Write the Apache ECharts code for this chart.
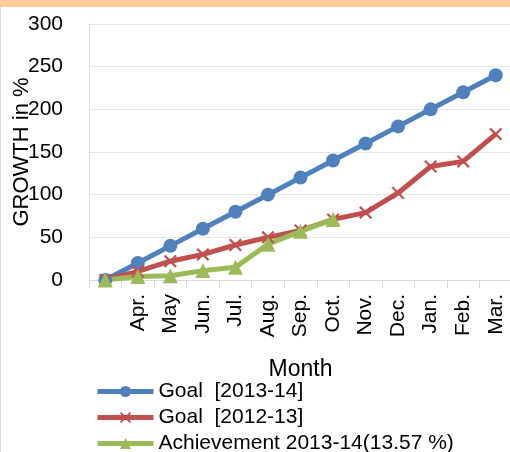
<!DOCTYPE html>
<html>
<head>
<meta charset="utf-8">
<style>
  html, body { margin: 0; padding: 0; background: #fff; }
  #main { width: 510px; height: 452px; }
</style>
<script src="https://cdn.jsdelivr.net/npm/echarts@6/dist/echarts.min.js"></script>
</head>
<body>
<div id="main"></div>
<script>
// months, the first slot is the starting point (no label)
var months = ['', 'Apr.', 'May', 'Jun.', 'Jul.', 'Aug.', 'Sep.', 'Oct.', 'Nov.', 'Dec.', 'Jan.', 'Feb.', 'Mar.'];
var goal1314 = [0, 20, 40, 60, 80, 100, 120, 140, 160, 180, 200, 220, 240];
var goal1213 = [0, 10, 22, 30, 41, 50, 58, 71, 79, 102, 133, 139, 171];
var achieve1314 = [0, 4, 5, 11, 15, 42, 57, 71, '-', '-', '-', '-', '-'];
var yTicks = [0, 50, 100, 150, 200, 250, 300];

var FONT = 'Liberation Sans';
var crossPath = 'path://M0,1.2L1.2,0L10,8.8L8.8,10Z M8.8,0L10,1.2L1.2,10L0,8.8Z';

var chart = echarts.init(document.getElementById('main'));
chart.setOption({
    animation: false,
    textStyle: { fontFamily: FONT },
    graphic: [
        { type: 'rect', left: 0, top: 0, shape: { width: 510, height: 7 }, style: { fill: '#ffcc99' } },
        { type: 'rect', left: 0, top: 7, shape: { width: 1, height: 445 }, style: { fill: '#d9d9d9' } }
    ],
    grid: {
        left: 89,
        top: 24,
        right: -2,
        bottom: 172,
        outerBoundsMode: 'none'
    },
    legend: {
        orient: 'vertical',
        left: 90,
        top: 376,
        height: 120,
        itemWidth: 56,
        itemHeight: 14,
        itemGap: 5,
        lineStyle: { width: 5 },
        textStyle: { fontFamily: FONT, fontSize: 21, lineHeight: 21, color: '#000' },
        data: ['Goal  [2013-14]', 'Goal  [2012-13]', 'Achievement 2013-14(13.57 %)']
    },
    xAxis: {
        type: 'category',
        data: months,
        boundaryGap: true,
        name: 'Month',
        nameLocation: 'middle',
        nameGap: 78,
        nameTextStyle: { fontFamily: FONT, fontSize: 23, color: '#000' },
        axisLine: { lineStyle: { color: '#d9d9d9', width: 1 } },
        axisTick: { show: true, length: 8, interval: 0, lineStyle: { color: '#d9d9d9' } },
        axisLabel: { rotate: 90, interval: 0, margin: 14, fontSize: 21, color: '#000', fontFamily: FONT }
    },
    yAxis: {
        type: 'value',
        min: yTicks[0],
        max: yTicks[yTicks.length - 1],
        interval: 50,
        name: 'GROWTH in %',
        nameLocation: 'middle',
        nameGap: 56,
        nameMoveOverlap: false,
        nameTextStyle: { fontFamily: FONT, fontSize: 22, color: '#000' },
        axisLine: { show: true, lineStyle: { color: '#d9d9d9' } },
        axisTick: { show: false },
        axisLabel: { margin: 26, fontSize: 21, color: '#000', fontFamily: FONT },
        splitLine: { lineStyle: { color: '#e6e6e6' } }
    },
    series: [
        {
            name: 'Goal  [2013-14]',
            type: 'line',
            data: goal1314,
            symbol: 'circle',
            symbolSize: 14,
            lineStyle: { color: '#4f81bd', width: 5 },
            itemStyle: { color: '#4f81bd' }
        },
        {
            name: 'Goal  [2012-13]',
            type: 'line',
            data: goal1213,
            symbol: crossPath,
            symbolSize: 13,
            lineStyle: { color: '#c0504d', width: 5 },
            itemStyle: { color: '#c0504d' }
        },
        {
            name: 'Achievement 2013-14(13.57 %)',
            type: 'line',
            data: achieve1314,
            symbol: 'triangle',
            symbolSize: 15,
            lineStyle: { color: '#9bbb59', width: 5 },
            itemStyle: { color: '#9bbb59' }
        }
    ]
});
</script>
</body>
</html>
